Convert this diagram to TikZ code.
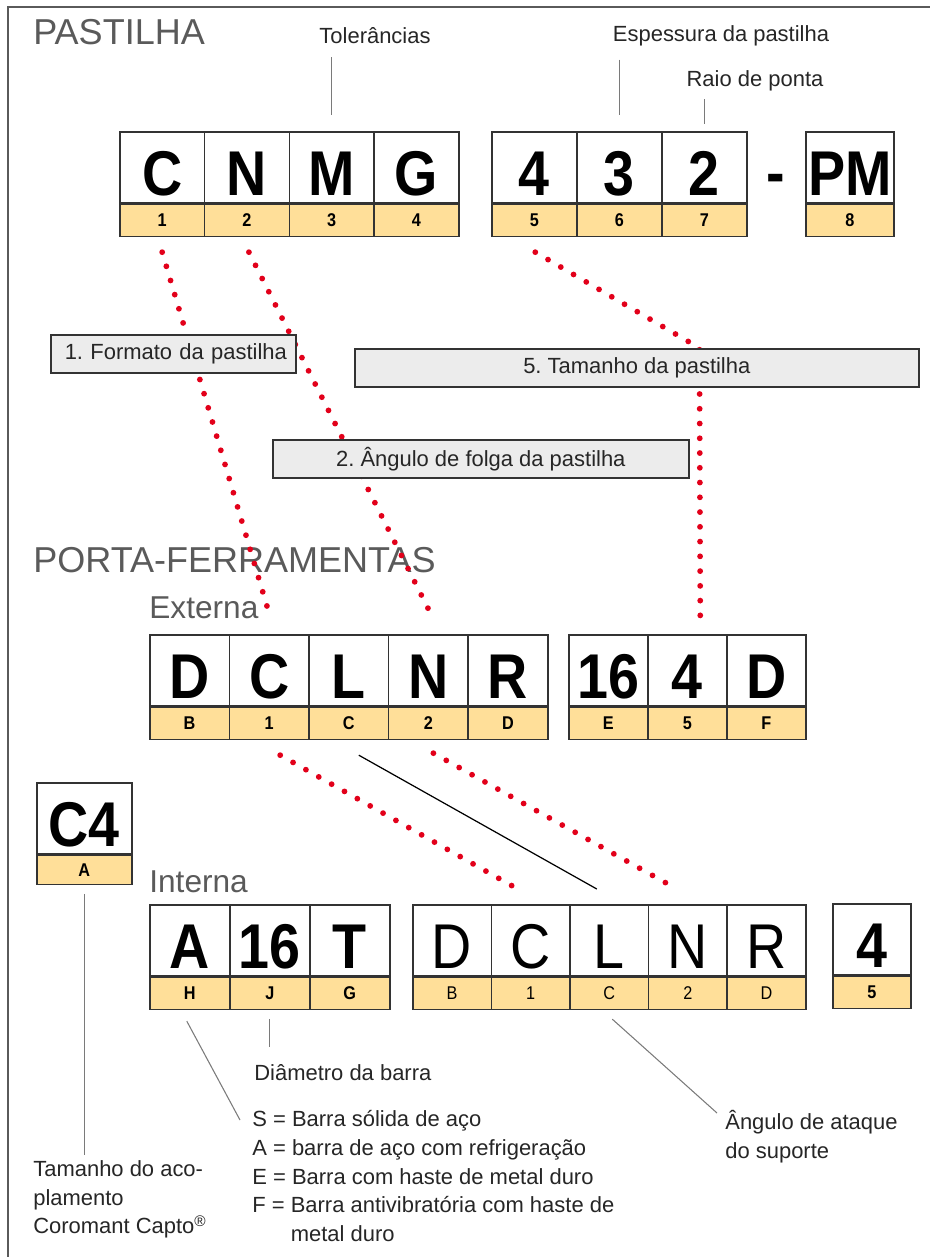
\documentclass[tikz,border=0pt]{standalone}
\usepackage{fontspec}
\setmainfont{Liberation Sans}
\newfontfamily\codefont{Liberation Sans}[FakeStretch=0.88]
\usetikzlibrary{positioning,calc}
\definecolor{codeyellow}{HTML}{FFDF99}
\definecolor{boxline}{HTML}{333333}
\definecolor{headgray}{HTML}{5A5A5A}
\definecolor{labfill}{HTML}{ECECEC}
\definecolor{dotred}{HTML}{E2001A}
\definecolor{leadgray}{HTML}{7A7A7A}
\definecolor{txtgray}{HTML}{262626}
\newcommand\pxl{0.02cm}
\frenchspacing
\tikzset{
  cell/.style={draw=boxline,line width=0.9pt,fill=white,inner sep=0pt,
    minimum height=71*\pxl,text height=32pt,text depth=0pt,anchor=north west,
    font=\codefont\fontsize{36}{36}\selectfont\bfseries},
  cellthin/.style={cell,font=\codefont\fontsize{36}{36}\selectfont},
  numcell/.style={draw=boxline,line width=0.9pt,fill=codeyellow,inner sep=0pt,
    minimum height=32*\pxl,font=\codefont\fontsize{10.5}{10.5}\selectfont\bfseries},
  numthin/.style={numcell,font=\codefont\fontsize{10.5}{10.5}\selectfont},
  head/.style={font=\fontsize{20.5}{24}\selectfont,text=headgray,anchor=base west,inner sep=0pt},
  subhead/.style={font=\fontsize{18}{22}\selectfont,text=headgray,anchor=base west,inner sep=0pt},
  txtnode/.style={font=\fontsize{12.5}{16.4}\selectfont,text=txtgray,inner sep=0pt,align=left},
  labbox/.style={draw=boxline,line width=0.9pt,fill=labfill,inner sep=0pt,
    minimum height=38*\pxl,anchor=north west,font=\fontsize{12.5}{15}\selectfont,text=txtgray},
  lead/.style={draw=leadgray,line width=0.6pt},
  reddots/.style={draw=dotred,line width=3.3pt,line cap=round,dash pattern=on 0pt off 8.4pt},
}
\begin{document}
\begin{tikzpicture}[x=\pxl,y=-\pxl]
  \useasboundingbox (0,0) rectangle (930,1257);
  \draw[draw=headgray,line width=1.2pt] (8,1257) -- (8,7) -- (930,7);

  % headings
  \node[head] (hpast) at (33,45) {PASTILHA};
  \node[head] (hporta) at (33,572) {PORTA-FERRAMENTAS};
  \node[subhead] (hext) at (149,618) {Externa};
  \node[subhead] (hint) at (149,892) {Interna};

  % insert code
  \foreach \ch/\nr [count=\i] in {C/1,N/2,M/3,G/4}{
    \node[cell,minimum width=84.75*\pxl] (p\i) at ({119+(\i-1)*84.75},131) {\ch};
    \node[numcell,minimum width=84.75*\pxl,below=0pt of p\i] (pn\i) {\nr};
  }
  \foreach \ch/\nr [count=\i] in {4/5,3/6,2/7}{
    \node[cell,minimum width=85*\pxl] (q\i) at ({491+(\i-1)*85},131) {\ch};
    \node[numcell,minimum width=85*\pxl,below=0pt of q\i] (qn\i) {\nr};
  }
  \node[font=\codefont\fontsize{36}{36}\selectfont\bfseries,inner sep=0pt] (hyph) at (776,184) {-};
  \node[cell,minimum width=88*\pxl] (pm) at (805,131) {PM};
  \node[numcell,minimum width=88*\pxl,below=0pt of pm] (pmn) {8};

  % external holder
  \foreach \ch/\nr [count=\i] in {D/B,C/1,L/C,N/2,R/D}{
    \node[cell,minimum width=79.6*\pxl] (e\i) at ({149+(\i-1)*79.6},634) {\ch};
    \node[numcell,minimum width=79.6*\pxl,below=0pt of e\i] (en\i) {\nr};
  }
  \foreach \ch/\nr [count=\i] in {16/E,4/5,D/F}{
    \node[cell,minimum width=79*\pxl] (f\i) at ({568+(\i-1)*79},634) {\ch};
    \node[numcell,minimum width=79*\pxl,below=0pt of f\i] (fn\i) {\nr};
  }

  % coupling
  \node[cell,minimum width=95*\pxl] (c4) at (36,782) {C4};
  \node[numcell,minimum width=95*\pxl,minimum height=29*\pxl,below=0pt of c4] (c4n) {A};

  % internal holder
  \foreach \ch/\nr [count=\i] in {A/H,16/J,T/G}{
    \node[cell,minimum width=80*\pxl] (a\i) at ({149+(\i-1)*80},904) {\ch};
    \node[numcell,minimum width=80*\pxl,below=0pt of a\i] (an\i) {\nr};
  }
  \foreach \ch/\nr [count=\i] in {D/B,C/1,L/C,N/2,R/D}{
    \node[cellthin,minimum width=78.6*\pxl] (i\i) at ({412+(\i-1)*78.6},904) {\ch};
    \node[numthin,minimum width=78.6*\pxl,below=0pt of i\i] (in\i) {\nr};
  }
  \node[cell,minimum width=78*\pxl] (k4) at (832,903) {4};
  \node[numcell,minimum width=78*\pxl,below=0pt of k4] (k4n) {5};

  % red dotted links
  \coordinate (bend5) at (699.5,348);
  \draw[reddots] ($(pn1.south)+(0,15)$) -- ($(e2.north)+(1,-17)$);
  \draw[reddots] ($(pn2.south)+(2,15)$) -- ($(e4.north)+(5,-15)$);
  \draw[reddots] ($(qn1.south)+(1,15)$) -- (bend5) -- ($(f2.north)+(13,-5)$);
  \draw[reddots] ($(en2.south)+(11,15)$) -- ($(i2.north)+(-13,-15)$);
  \draw[reddots] ($(en4.south)+(5,13)$) -- ($(i4.north)+(-11,-15)$);
  \draw[line width=0.7pt] ($(en3.south)+(10,15)$) -- ($(i3.north)+(-12.5,-15)$);

  % labels on top
  \node[labbox,text width=231*\pxl,inner xsep=7*\pxl,align=left] (lab1) at (50,334) {\hspace*{0.14cm}1. Formato da pastilha};
  \node[labbox,minimum width=564*\pxl] (lab5) at (354,348) {5. Tamanho da pastilha};
  \node[labbox,minimum width=416*\pxl] (lab2) at (272,439) {2. Ângulo de folga da pastilha};

  % upper leaders
  \node[txtnode] (tol) at (375,36) {Tolerâncias};
  \node[txtnode] (esp) at (721,36) {Espessura da pastilha};
  \node[txtnode] (raio) at (755,81) {Raio de ponta};
  \draw[lead,shorten <=7.4pt,shorten >=9pt] (tol.south -| p3.north) -- (p3.north);
  \draw[lead,shorten <=7.4pt,shorten >=9pt] (esp.south -| q2.north) -- (q2.north);
  \draw[lead,shorten <=4.5pt,shorten >=4pt] (raio.south -| q3.north) -- (q3.north);

  % lower leaders
  \node[txtnode,anchor=west] (diam) at (254,1073) {Diâmetro da barra};
  \node[txtnode,anchor=north west] (barlist) at (252,1110)
    {S = Barra sólida de aço\\A = barra de aço com refrigeração\\E = Barra com haste de metal duro\\F = Barra antivibratória com haste de\\\phantom{F = }metal duro};
  \node[txtnode,anchor=north west] (tam) at (33,1160) {Tamanho do aco-\\plamento\\Coromant Capto\textsuperscript{®}};
  \node[txtnode,anchor=north west] (ang) at (725,1110) {Ângulo de ataque\\do suporte};
  \draw[lead,shorten <=5pt,shorten >=3pt] (c4n.south) -- (c4n.south |- tam.north);
  \draw[lead] ($(an1.south)+(-3,11)$) -- ($(barlist.north west)+(-12,10)$);
  \draw[lead,shorten <=5pt,shorten >=10pt] (an2.south) -- (an2.south |- diam.north);
  \draw[lead] ($(in3.south)+(3,9)$) -- ($(ang.north west)+(-8,3)$);
\end{tikzpicture}
\end{document}
